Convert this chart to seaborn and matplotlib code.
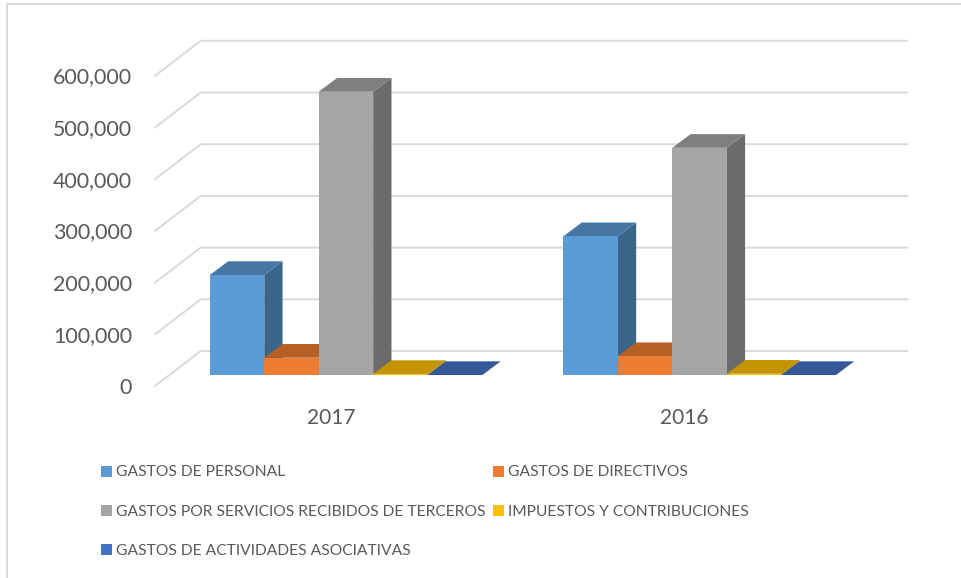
import matplotlib
matplotlib.use("Agg")
import matplotlib.pyplot as plt
import seaborn as sns
import pandas as pd
import numpy as np
from matplotlib.colors import to_rgb
from matplotlib.lines import Line2D
from matplotlib.patches import Patch, Polygon
from matplotlib.transforms import IdentityTransform, ScaledTranslation

years = ["2017", "2016"]
series = ["GASTOS DE PERSONAL", "GASTOS DE DIRECTIVOS",
          "GASTOS POR SERVICIOS RECIBIDOS DE TERCEROS",
          "IMPUESTOS Y CONTRIBUCIONES", "GASTOS DE ACTIVIDADES ASOCIATIVAS"]
personal = [194000, 269000]
directivos = [34000, 37000]
servicios = [548500, 440000]
impuestos = [2500, 3000]
asociativas = [500, 500]
colors = ["#5B9BD5", "#ED7D31", "#A5A5A5", "#FFC000", "#4472C4"]
y_ticks = [0, 100000, 200000, 300000, 400000, 500000, 600000]

sns.set_theme(style="white")
plt.rcParams["font.family"] = ["Lato", "DejaVu Sans"]
text_color = "#595959"
grid_color = "#D9D9D9"

rows = []
for name, vals in zip(series, [personal, directivos, servicios, impuestos, asociativas]):
    for yr, v in zip(years, vals):
        rows.append({"year": yr, "serie": name, "value": v})
df = pd.DataFrame(rows)

W, H = 961, 578
fig = plt.figure(figsize=(W / 100, H / 100), dpi=100)
ax = fig.add_axes([155 / W, (H - 375.3) / H, 752.5 / W, 310.2 / H])

sns.barplot(data=df, x="year", y="value", hue="serie", order=years, hue_order=series,
            palette=colors, saturation=1, width=0.77, gap=0, linewidth=0, legend=False, ax=ax)
ax.set_xlim(-0.54, 1.588)
ax.set_ylim(0, 600000)
ax.set_xlabel("")
ax.set_ylabel("")
ax.set_yticks(y_ticks)
ax.set_yticklabels([f"{v:,}" for v in y_ticks])
ax.tick_params(axis="y", length=0, pad=16.5, labelsize=15.4, labelcolor=text_color)
ax.tick_params(axis="x", length=0, pad=23.5, labelsize=15, labelcolor=text_color)
sns.despine(ax=ax, left=True, bottom=True)
ax.patch.set_alpha(0)

# tick labels sit on the front edge of the 3D wall, not on the bar base
for lab in ax.get_yticklabels():
    lab.set_transform(lab.get_transform() + ScaledTranslation(0, -10.2 / 100, fig.dpi_scale_trans))
for lab in ax.get_xticklabels():
    lab.set_transform(lab.get_transform() + ScaledTranslation(-15 / 100, 0, fig.dpi_scale_trans))

# wall gridlines, in pixels from the axis scale
for v in y_ticks:
    x0, y0 = ax.get_yaxis_transform().transform((0, v))
    x1, _ = ax.get_yaxis_transform().transform((1, v))
    ax.add_line(Line2D([x0, x0 + 45.7, x1], [y0 - 10.7, y0 + 24.3, y0 + 24.3], color=grid_color,
                       lw=1.4, transform=IdentityTransform(), clip_on=False, zorder=1))

# fake 3D faces for every bar
depth_x, depth_y = 18.3, 13.7
bars = sorted([b for c in ax.containers for b in c], key=lambda b: b.get_x())
for i, bar in enumerate(bars):
    col = np.array(to_rgb(bar.get_facecolor()[:3]))
    (xa, ya), (xb, yb) = ax.transData.transform(
        [(bar.get_x(), 0), (bar.get_x() + bar.get_width(), bar.get_height())])
    side = [(xb, ya), (xb + depth_x, ya + depth_y), (xb + depth_x, yb + depth_y), (xb, yb)]
    top = [(xa, yb), (xa + depth_x, yb + depth_y), (xb + depth_x, yb + depth_y), (xb, yb)]
    z = 3 + i * 0.1
    ax.add_patch(Polygon(side, closed=True, fc=col * 0.65, ec="none",
                         transform=IdentityTransform(), clip_on=False, zorder=z))
    ax.add_patch(Polygon(top, closed=True, fc=col * 0.77, ec="none",
                         transform=IdentityTransform(), clip_on=False, zorder=z))
    bar.set_zorder(z + 0.05)

# legend fills by column, picture reads by row
order = [0, 2, 4, 1, 3]
handles = [Patch(facecolor=colors[i], edgecolor="none") for i in order]
ax.legend(handles, [series[i] for i in order], loc="upper left",
          bbox_to_anchor=(101 / W, 1 - 465.5 / H), bbox_transform=fig.transFigure,
          ncol=2, frameon=False, borderpad=0, borderaxespad=0, fontsize=11.26,
          handlelength=0.7, handleheight=0.7, handletextpad=0.26,
          labelspacing=1.6, columnspacing=0.5, labelcolor=text_color)

# chart frame, cropped at right and bottom
fig.add_artist(Line2D([7 / W, 7 / W, 1], [0, 1 - 4 / H, 1 - 4 / H], color=grid_color, lw=1.4))

fig.savefig("out.png", dpi=100)
